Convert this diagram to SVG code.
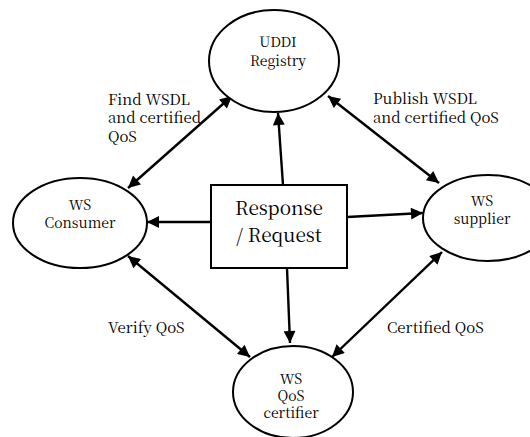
<svg xmlns="http://www.w3.org/2000/svg" width="530" height="437" viewBox="0 0 530 437">
<style>
.node{fill:#fff;stroke:#000;stroke-width:2}
.t{font-family:'Noto Serif CJK SC',Georgia,serif;font-size:14px;text-anchor:middle;fill:#000}
.lbl{font-family:'Noto Serif CJK SC',Georgia,serif;font-size:15px;fill:#000}
.big{font-family:'Noto Serif CJK SC',Georgia,serif;font-size:19px;text-anchor:middle;fill:#000}
.c{stroke:#000;stroke-width:2.4;fill:none}
</style>
<defs>
<marker id="ah" viewBox="0 0 10 10" refX="10" refY="5" markerWidth="6" markerHeight="5" markerUnits="strokeWidth" orient="auto-start-reverse">
<path d="M0,0 L10,5 L0,10 z" fill="#000"/>
</marker>
</defs>
<rect width="530" height="437" fill="#fff"/>
<g id="connectors">
<line class="c" x1="283" y1="185" x2="278" y2="113" marker-end="url(#ah)"/>
<line class="c" x1="211" y1="222" x2="147" y2="222" marker-end="url(#ah)"/>
<line class="c" x1="347" y1="217" x2="423" y2="213" marker-end="url(#ah)"/>
<line class="c" x1="287" y1="268" x2="290" y2="343" marker-end="url(#ah)"/>
<line class="c" x1="232" y1="96" x2="128" y2="188" marker-start="url(#ah)" marker-end="url(#ah)"/>
<line class="c" x1="328" y1="96" x2="439" y2="183" marker-start="url(#ah)" marker-end="url(#ah)"/>
<line class="c" x1="128" y1="256" x2="250" y2="357" marker-start="url(#ah)" marker-end="url(#ah)"/>
<line class="c" x1="442" y1="252" x2="332" y2="357" marker-start="url(#ah)" marker-end="url(#ah)"/>
</g>
<g id="uddi">
<ellipse class="node" cx="274" cy="61" rx="65" ry="51"/>
<text class="t" x="278" y="47">UDDI</text>
<text class="t" x="278" y="66">Registry</text>
</g>
<g id="consumer">
<ellipse class="node" cx="80" cy="223" rx="67" ry="45"/>
<text class="t" x="80" y="210">WS</text>
<text class="t" x="80" y="228">Consumer</text>
</g>
<g id="supplier">
<ellipse class="node" cx="488" cy="218" rx="65" ry="43"/>
<text class="t" x="482" y="206">WS</text>
<text class="t" x="482" y="224">supplier</text>
</g>
<g id="certifier">
<ellipse class="node" cx="293" cy="392" rx="60" ry="46"/>
<text class="t" x="291" y="384">WS</text>
<text class="t" x="291" y="401">QoS</text>
<text class="t" x="291" y="418">certifier</text>
</g>
<g id="request">
<rect class="node" x="211" y="185" width="136" height="83"/>
<text class="big" x="279" y="215">Response</text>
<text class="big" x="279" y="242">/ Request</text>
</g>
<g id="labels">
<text class="lbl" x="108" y="105">Find WSDL</text>
<text class="lbl" x="108" y="123">and certified</text>
<text class="lbl" x="108" y="142">QoS</text>
<text class="lbl" x="373" y="104">Publish WSDL</text>
<text class="lbl" x="373" y="123">and certified QoS</text>
<text class="lbl" x="108" y="333">Verify QoS</text>
<text class="lbl" x="387" y="333">Certified QoS</text>
</g>
</svg>
